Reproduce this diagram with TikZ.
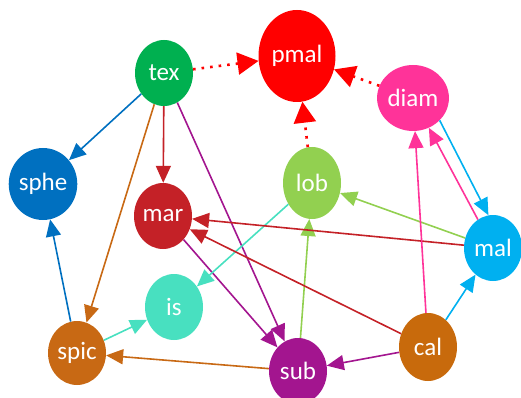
\documentclass[tikz,border=0pt]{standalone}
\usepackage{fontspec}
\setmainfont{Carlito}
\usepackage{tikz}
\usetikzlibrary{shapes.geometric}
\usetikzlibrary{arrows.meta}

\definecolor{texgreen}{HTML}{00B050}
\definecolor{pmalred}{HTML}{FF0000}
\definecolor{diampink}{HTML}{FF3399}
\definecolor{spheblue}{HTML}{0070C0}
\definecolor{marred}{HTML}{C42127}
\definecolor{lobgreen}{HTML}{92D050}
\definecolor{malblue}{HTML}{00B0F0}
\definecolor{isteal}{HTML}{48E0C0}
\definecolor{spicorange}{HTML}{C86914}
\definecolor{subpurple}{HTML}{A3158F}
\definecolor{calorange}{HTML}{C86A0C}

\begin{document}
\begin{tikzpicture}[x=1pt, y=-1pt,
        topic/.style={ellipse, inner sep=0pt, minimum width=58pt, minimum height=66pt,
            text=white, font=\fontsize{25}{28}\selectfont},
        link/.style={line width=1.6pt, -{Triangle[length=17pt, width=15pt]}},
        dotlink/.style={line width=2.6pt, pmalred, dash pattern=on 2.6pt off 6pt,
            -{Triangle[length=21pt, width=22pt]}}]
        % Fix the frame
        \useasboundingbox (0,0) rectangle (521,398);
        \clip (0,0) rectangle (521,398);
        % Draw the nodes
        \node[topic, fill=texgreen] (tex) at (164,73) {tex};
        \node[topic, fill=pmalred, minimum width=77pt, minimum height=92pt] (pmal) at (297,56) {pmal};
        \node[topic, fill=diampink] (diam) at (413,98) {diam};
        \node[topic, fill=spheblue, minimum height=72pt] (sphe) at (43,184) {sphe};
        \node[topic, fill=marred] (mar) at (163,216) {mar};
        \node[topic, fill=lobgreen, minimum height=72pt] (lob) at (312,183) {lob};
        \node[topic, fill=malblue] (mal) at (493,248) {mal};
        \node[topic, fill=isteal] (is) at (174,307) {is};
        \node[topic, fill=spicorange, minimum height=64pt] (spic) at (77,353) {spic};
        \node[topic, fill=subpurple] (sub) at (298,371) {sub};
        \node[topic, fill=calorange, minimum height=68pt] (cal) at (428,347) {cal};
        % Draw the dotted links into pmal
        \foreach \src in {tex,diam,lob}{
            \draw[dotlink] (\src) -- (pmal);
        }
        % Draw the links out of tex
        \draw[link, spheblue] (tex) -- (sphe);
        \draw[link, marred] (tex) -- (mar);
        \draw[link, spicorange] (tex) -- (spic);
        \draw[link, subpurple] (tex) -- (sub);
        % Draw the links on the left
        \draw[link, spheblue] (spic) -- (sphe);
        \draw[link, isteal] (spic) -- (is);
        \draw[link, spicorange] (sub) -- (spic);
        \draw[link, subpurple] (mar) -- (sub);
        \draw[link, isteal] (lob) -- (is);
        % Draw the links on the right
        \draw[link, lobgreen] (sub) -- (lob);
        \draw[link, lobgreen] (mal) -- (lob);
        \draw[link, marred] (mal) -- (mar);
        \draw[link, marred] (cal) -- (mar);
        \draw[link, subpurple] (cal) -- (sub);
        \draw[link, diampink] (cal) -- (diam);
        \draw[link, diampink] (mal.118) -- (diam.-62);
        \draw[link, malblue] (diam.-40) -- (mal.98);
        \draw[link, malblue] (cal) -- (mal);
    \end{tikzpicture}
\end{document}
